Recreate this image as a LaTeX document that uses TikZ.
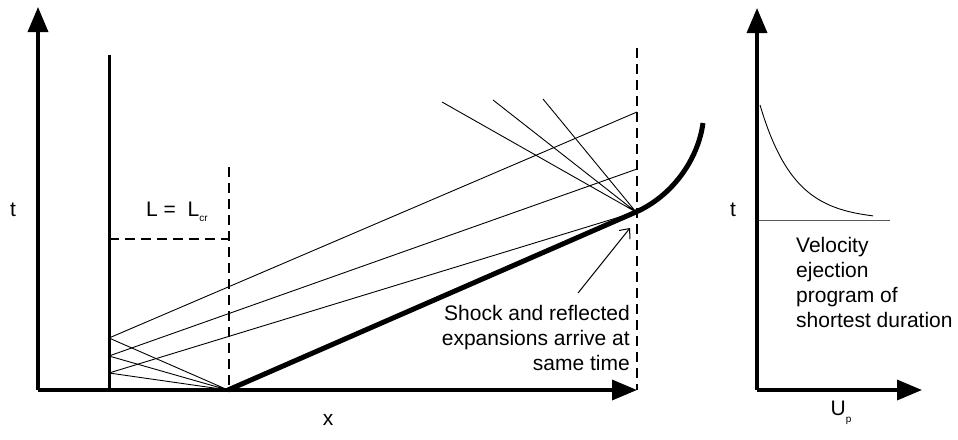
\documentclass[tikz,border=0pt]{standalone}
\usepackage{fontspec}
\setmainfont{Liberation Sans}
\usetikzlibrary{arrows.meta}
\begin{document}
\begin{tikzpicture}[x=1pt,y=-1pt,
  axis/.style={line width=3.5pt,-{Triangle[length=25pt,width=20pt]}},
  wall/.style={line width=3pt},
  shock/.style={line width=5pt},
  thin/.style={line width=0.9pt},
  dashline/.style={line width=1.6pt,dash pattern=on 10pt off 6pt},
  lbl/.style={inner sep=0pt,font=\fontsize{21}{25}\selectfont},
  note/.style={->,>={Straight Barb[length=8pt,width=14pt]},line width=1pt}
]
\useasboundingbox (0,0) rectangle (958,439);
% coordinates
\coordinate (O1) at (38,390);
\coordinate (Ytop) at (38,7);
\coordinate (Xend) at (637,390);
\coordinate (Wtop) at (109,55);
\coordinate (Wbot) at (109,390);
\coordinate (W1) at (109,338);
\coordinate (W2) at (109,356);
\coordinate (W3) at (109,373);
\coordinate (F) at (228,390);
\coordinate (S) at (636,212);
\coordinate (R1) at (637,112);
\coordinate (R2) at (637,169);
\coordinate (E1) at (442,102);
\coordinate (E2) at (493,100);
\coordinate (E3) at (543,99);
\coordinate (Send) at (703,123);
\coordinate (D1a) at (229,167);
\coordinate (D1b) at (229,390);
\coordinate (Dh) at (109,239);
\coordinate (Dc) at (229,239);
\coordinate (D2a) at (637,48);
\coordinate (D2b) at (637,390);
\coordinate (Aa) at (578,293);
\coordinate (Ab) at (630,228);
\coordinate (O2) at (757,390);
\coordinate (Y2top) at (757,8);
\coordinate (X2end) at (922,390);
\coordinate (H1) at (759,220);
\coordinate (H2) at (890,220);

% dashed lines
\draw[dashline] (D1a) -- (D1b);
\draw[dashline] (Dh) -- (Dc);
\draw[dashline] (D2a) -- (D2b);

% axes left
\draw[axis] (O1) -- (Ytop);
\draw[axis] (O1) -- (Xend);
% wall
\draw[wall] (Wtop) -- (Wbot);

% expansion fan
\draw[thin] (F) -- (W1) (F) -- (W2) (F) -- (W3);
\draw[thin] (W1) -- (R1) (W2) -- (R2) (W3) -- (S);
\draw[thin] (S) -- (E1) (S) -- (E2) (S) -- (E3);

% shock
\draw[shock] (F) -- (S) .. controls (672,196) and (698,160) .. (Send);

% annotation
\draw[note] (Aa) -- (Ab);

% labels left
\node[lbl] (tl) at (13,210) {t};
\node[lbl] (xl) at (328,420) {x};
\node[lbl,anchor=west] (Lcr) at (146,212) {L =\ \ L\raisebox{-0.45ex}{\fontsize{10}{10}\selectfont cr}};
\node[lbl,anchor=east,align=right] (shk) at (630,338) {Shock and reflected\\expansions arrive at\\same time};

% right panel
\draw[axis] (O2) -- (Y2top);
\draw[axis] (O2) -- (X2end);
\draw[line width=1pt,black!65] (H1) -- (H2);
\draw[thin] plot[domain=0:113,samples=60,smooth] ({760+\x},{220-115*exp(-\x/34)});
\node[lbl] (tr) at (733,210) {t};
\node[lbl] (up) at (841,413) {U\raisebox{-0.6ex}{\fontsize{10}{10}\selectfont p}};
\node[lbl,anchor=west,align=left] (vel) at (796,282) {Velocity\\ejection\\program of\\shortest duration};
\end{tikzpicture}
\end{document}
